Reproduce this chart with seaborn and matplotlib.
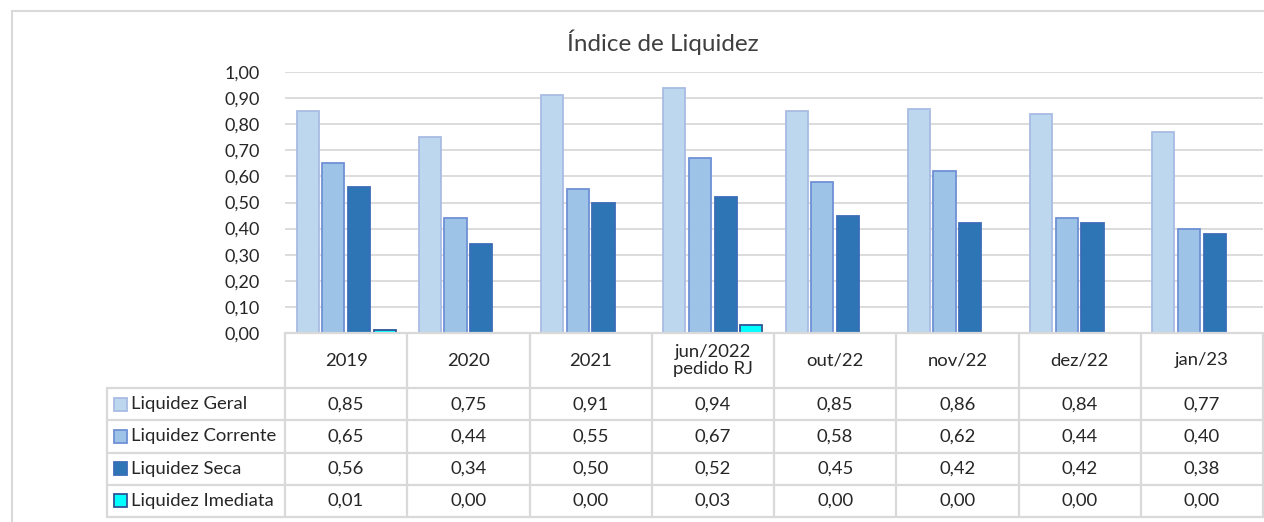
import numpy as np
import pandas as pd
import seaborn as sns
import matplotlib.pyplot as plt
from matplotlib.lines import Line2D
from matplotlib.patches import Rectangle

periodos = ["2019", "2020", "2021", "jun/2022\npedido RJ", "out/22", "nov/22", "dez/22", "jan/23"]
series = ["Liquidez Geral", "Liquidez Corrente", "Liquidez Seca", "Liquidez Imediata"]
geral = [0.85, 0.75, 0.91, 0.94, 0.85, 0.86, 0.84, 0.77]
corrente = [0.65, 0.44, 0.55, 0.67, 0.58, 0.62, 0.44, 0.40]
seca = [0.56, 0.34, 0.50, 0.52, 0.45, 0.42, 0.42, 0.38]
imediata = [0.01, 0.00, 0.00, 0.03, 0.00, 0.00, 0.00, 0.00]

cores = ["#BDD7EE", "#9DC3E6", "#2E75B6", "#00FFFF"]
bordas = ["#A9BCE4", "#6F91D6", "#3A6DB8", "#2F5597"]

valores = [geral, corrente, seca, imediata]
df = pd.DataFrame({
    "periodo": periodos * 4,
    "serie": np.repeat(series, len(periodos)),
    "valor": np.concatenate(valores),
})

sns.set_style("white")
plt.rcParams["font.family"] = ["Lato", "DejaVu Sans"]

W, H = 1264, 522
fig = plt.figure(figsize=(W / 100, H / 100), dpi=100)


def fx(px):
    return px / W


def fy(py):
    return 1 - py / H


x0, x1 = 285, 1263
y_top, y_zero = 72, 333
ax = fig.add_axes([fx(x0), fy(y_zero), fx(x1) - fx(x0), fy(y_top) - fy(y_zero)])
sns.barplot(data=df, x="periodo", y="valor", hue="serie", order=periodos,
            hue_order=series, palette=cores, width=0.84, gap=0.14,
            saturation=1, legend=False, ax=ax, zorder=3)
for cont, ec in zip(ax.containers, bordas):
    for bar in cont:
        bar.set_edgecolor(ec)
        bar.set_linewidth(1.3)
        if bar.get_height() <= 0:
            bar.set_visible(False)

ax.set_xlim(-0.5, len(periodos) - 0.5)
ax.set_ylim(0, 1.0)
ax.set_yticks(np.arange(0, 1.01, 0.1))
ax.set_yticklabels([f"{v:.2f}".replace(".", ",") for v in np.arange(0, 1.01, 0.1)],
                   fontsize=13, color="#262626")
ax.tick_params(axis="y", length=0, pad=18)
ax.set_xticks([])
ax.set_xlabel("")
ax.set_ylabel("")
ax.grid(axis="y", color="#D9D9D9", linewidth=1.3, zorder=0)
for s in ax.spines.values():
    s.set_visible(False)

fig.text(fx(663), fy(42), "Índice de Liquidez", ha="center", va="center",
         fontsize=17.5, color="#404040")

# outer chart border
lc = "#D9D9D9"
fig.add_artist(Line2D([fx(12), fx(12)], [fy(11), fy(H + 5)], color=lc, lw=1.5))
fig.add_artist(Line2D([fx(12), fx(W + 5)], [fy(11), fy(11)], color=lc, lw=1.5))

# data table
col_w = (x1 - x0) / len(periodos)
cols = [x0 + i * col_w for i in range(len(periodos) + 1)]
head_bot = 388
row_h = 32.25
rows = [head_bot + i * row_h for i in range(len(series) + 1)]
leg_x = 107
tlc = "#D9D9D9"
tlw = 1.6

for c in cols:
    fig.add_artist(Line2D([fx(c), fx(c)], [fy(y_zero), fy(rows[-1])], color=tlc, lw=tlw))
fig.add_artist(Line2D([fx(leg_x), fx(leg_x)], [fy(head_bot), fy(rows[-1])], color=tlc, lw=tlw))
fig.add_artist(Line2D([fx(x0), fx(x1)], [fy(y_zero), fy(y_zero)], color=tlc, lw=tlw))
for r in rows:
    fig.add_artist(Line2D([fx(leg_x), fx(x1)], [fy(r), fy(r)], color=tlc, lw=tlw))

fs = 13.3
for i, p in enumerate(periodos):
    xc = (cols[i] + cols[i + 1]) / 2
    fig.text(fx(xc), fy((y_zero + head_bot) / 2), p, ha="center", va="center",
             fontsize=fs, color="#262626", linespacing=1.1)

for j, (nome, vals) in enumerate(zip(series, valores)):
    yc = (rows[j] + rows[j + 1]) / 2
    fig.add_artist(Rectangle((fx(113.5), fy(yc + 6.5)), fx(13), 13 / H,
                             facecolor=cores[j], edgecolor=bordas[j], lw=1.3))
    fig.text(fx(131), fy(yc), nome, ha="left", va="center",
             fontsize=fs, color="#262626")
    for i, v in enumerate(vals):
        xc = (cols[i] + cols[i + 1]) / 2
        fig.text(fx(xc), fy(yc), f"{v:.2f}".replace(".", ","), ha="center",
                 va="center", fontsize=fs, color="#262626")

fig.savefig("out.png", dpi=100)
